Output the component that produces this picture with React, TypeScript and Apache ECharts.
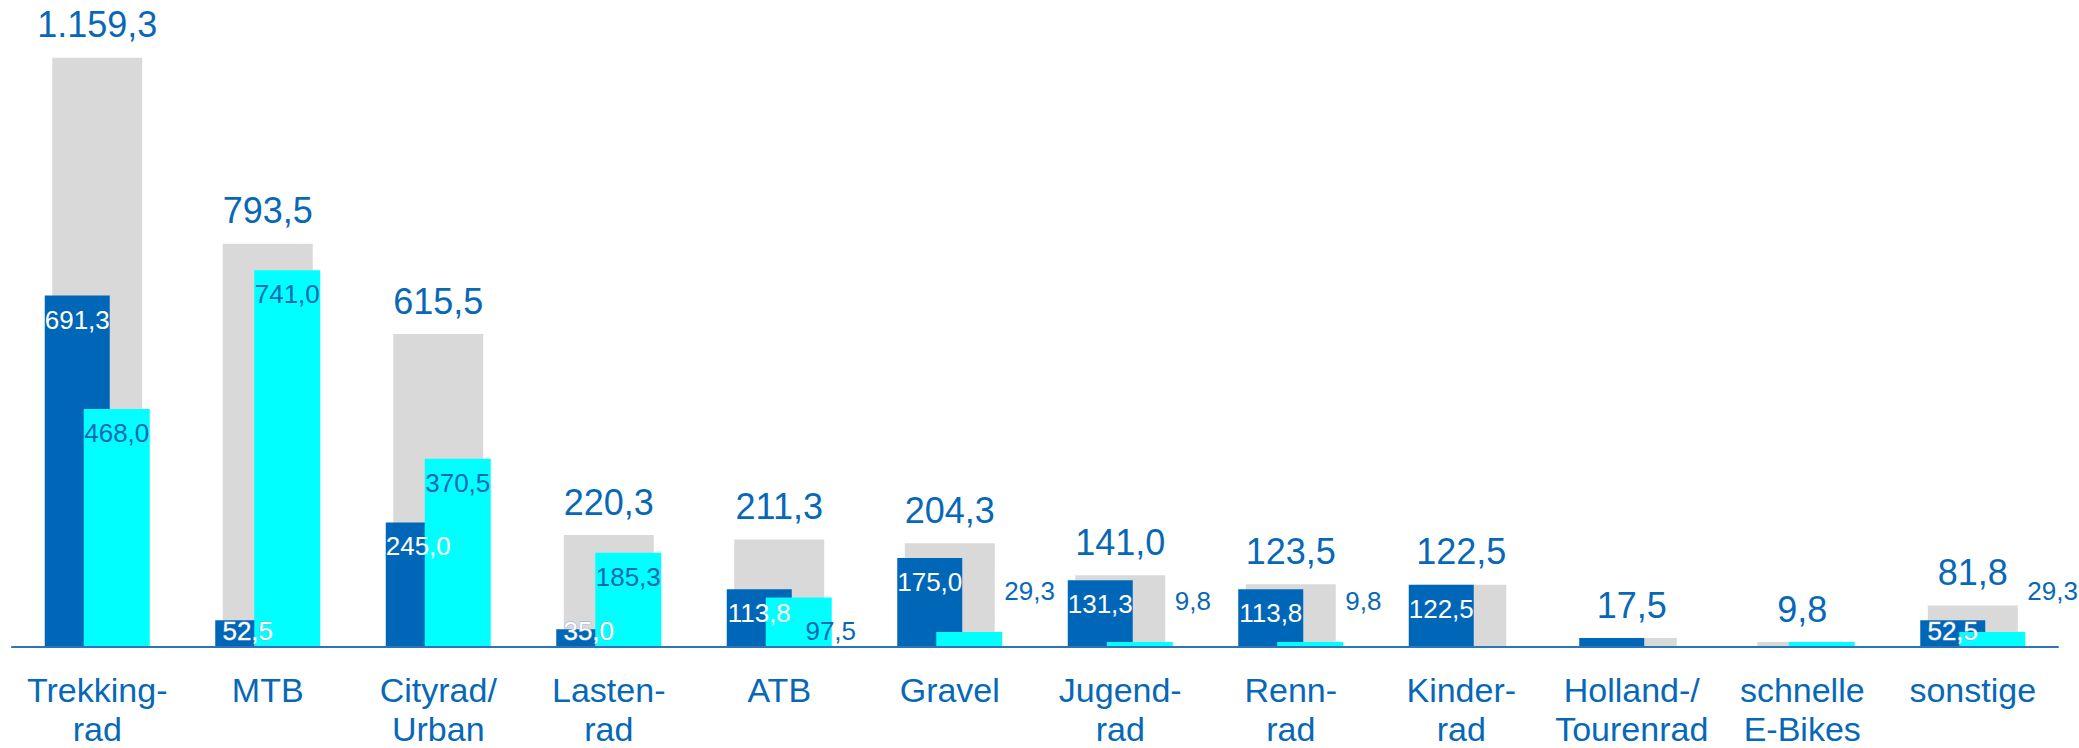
import React, { useEffect, useRef } from "react";
import * as echarts from "echarts";

const categories = [
  "Trekking-\nrad",
  "MTB",
  "Cityrad/\nUrban",
  "Lasten-\nrad",
  "ATB",
  "Gravel",
  "Jugend-\nrad",
  "Renn-\nrad",
  "Kinder-\nrad",
  "Holland-/\nTourenrad",
  "schnelle\nE-Bikes",
  "sonstige",
];
const totals = [1159.3, 793.5, 615.5, 220.3, 211.3, 204.3, 141.0, 123.5, 122.5, 17.5, 9.8, 81.8];
const darkValues = [691.3, 52.5, 245.0, 35.0, 113.8, 175.0, 131.3, 113.8, 122.5, 17.5, 0, 52.5];
const cyanValues = [468.0, 741.0, 370.5, 185.3, 97.5, 29.3, 9.8, 9.8, 0, 0, 9.8, 29.3];
const darkLabelShown = [true, true, true, true, true, true, true, true, true, false, false, true];
const cyanLabelShown = [true, true, true, true, true, true, true, true, false, false, false, true];

const BLUE_TEXT = "#0868B8";
const DARK = "#0067B8";
const CYAN = "#00FFFF";
const GRAY = "#D9D9D9";
const FONT = "Liberation Sans, Arial, sans-serif";

function fmt(v: number): string {
  const s = v.toFixed(1);
  const [int, dec] = s.split(".");
  const withDots = int.replace(/\B(?=(\d{3})+(?!\d))/g, ".");
  return withDots + "," + dec;
}

export default function App() {
  const ref = useRef<HTMLDivElement>(null);
  useEffect(() => {
    if (!ref.current) return;
    const chart = echarts.init(ref.current, undefined, { renderer: "svg" });

    const darkData = darkValues.map((v, i) => {
      const small = v < 60;
      return {
        value: v,
        label: small
          ? {
              show: darkLabelShown[i],
              position: "insideBottom",
              distance: 3,
              textBorderColor: "#8aa8cf",
              textBorderWidth: 0.8,
            }
          : {
              show: darkLabelShown[i],
              position: "insideTop",
              distance: 11,
            },
      };
    });

    const cyanData = cyanValues.map((v, i) => {
      let label: any;
      if (v >= 100) {
        label = { show: cyanLabelShown[i], position: "insideTop", distance: 11 };
      } else if (v >= 50) {
        label = { show: cyanLabelShown[i], position: "insideBottom", distance: 3, offset: [32, 0] };
      } else {
        label = {
          show: cyanLabelShown[i],
          position: ["100%", 0],
          align: "left",
          verticalAlign: "bottom",
          offset: [2, -28],
        };
      }
      return { value: v, label };
    });

    chart.setOption({
      animation: false,
      backgroundColor: "#ffffff",
      grid: { left: 12, right: 21, top: 37, bottom: 97, containLabel: false },
      xAxis: [
        {
          type: "category",
          data: categories,
          axisLine: { show: true, lineStyle: { color: "#2E75B6", width: 2 } },
          axisTick: { show: false },
          axisLabel: {
            color: BLUE_TEXT,
            fontSize: 34,
            lineHeight: 39,
            fontFamily: FONT,
            margin: 23,
            interval: 0,
          },
          z: 10,
        },
        {
          type: "category",
          data: categories,
          show: false,
          position: "bottom",
        },
      ],
      yAxis: {
        type: "value",
        min: 0,
        max: 1200,
        show: false,
        splitLine: { show: false },
      },
      series: [
        {
          name: "Gesamt",
          type: "bar",
          xAxisIndex: 1,
          data: totals,
          barWidth: 90,
          itemStyle: { color: GRAY },
          label: {
            show: true,
            position: "top",
            distance: 15,
            color: BLUE_TEXT,
            fontSize: 36,
            fontFamily: FONT,
            formatter: (p: any) => fmt(p.value),
          },
        },
        {
          name: "dunkel",
          type: "bar",
          xAxisIndex: 0,
          data: darkData,
          barWidth: 65,
          barGap: "-40%",
          itemStyle: { color: DARK },
          label: {
            color: "#ffffff",
            fontSize: 26,
            fontFamily: FONT,
            formatter: (p: any) => fmt(p.value),
          },
        },
        {
          name: "cyan",
          type: "bar",
          xAxisIndex: 0,
          data: cyanData,
          barWidth: 66,
          barGap: "-40%",
          itemStyle: { color: CYAN },
          label: {
            color: BLUE_TEXT,
            fontSize: 26,
            fontFamily: FONT,
            formatter: (p: any) => fmt(p.value),
          },
        },
      ],
    });
    return () => chart.dispose();
  }, []);

  return (
    <div
      ref={ref}
      style={{ position: "fixed", left: 0, top: 0, width: 2079, height: 748, background: "#fff" }}
    />
  );
}
